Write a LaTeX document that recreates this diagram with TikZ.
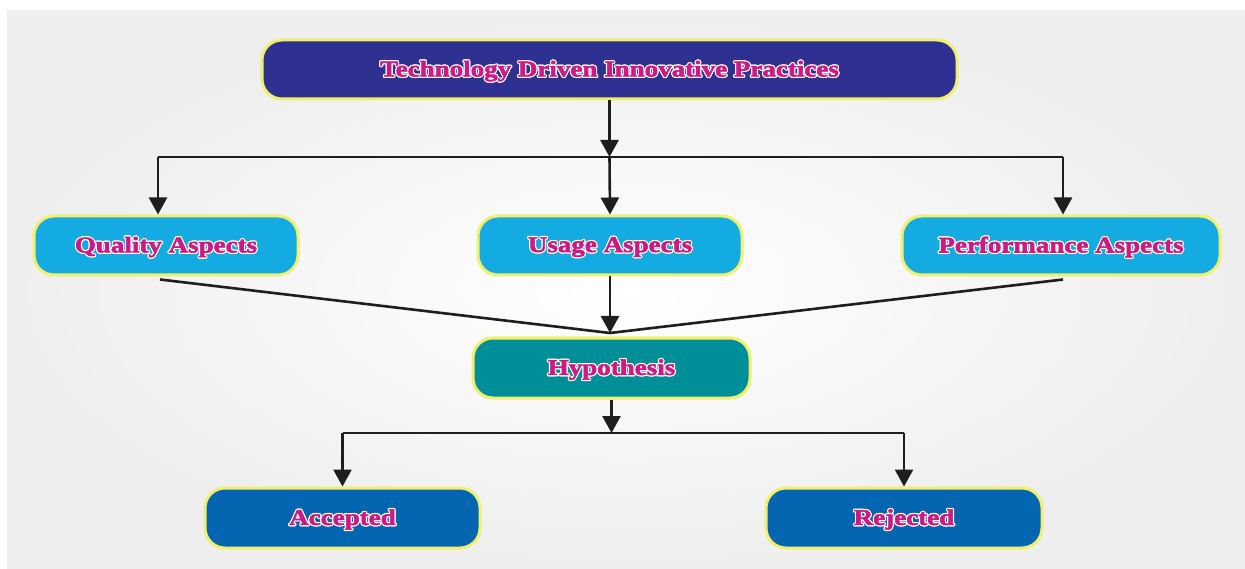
\documentclass[tikz,border=0pt]{standalone}
\usepackage{fontspec}
\setmainfont{Liberation Serif}
\newfontfamily\boxfont{Liberation Serif}[FakeStretch=1.2,FakeBold=2.5]
\usetikzlibrary{arrows.meta,calc}
\definecolor{topc}{RGB}{46,49,146}
\definecolor{aspc}{RGB}{20,170,226}
\definecolor{hypc}{RGB}{0,142,152}
\definecolor{resc}{RGB}{4,102,176}
\definecolor{yb}{RGB}{242,238,110}
\definecolor{txtc}{RGB}{205,25,135}
\definecolor{linec}{RGB}{30,30,30}
\definecolor{panel}{RGB}{238,238,238}
\newcommand\halo[3]{\rlap{\kern#1\raisebox{#2}{\textcolor{white}{#3}}}}
\newcommand\outl[1]{\leavevmode
  \halo{1.2pt}{0pt}{#1}\halo{-1.2pt}{0pt}{#1}\halo{0pt}{1.2pt}{#1}\halo{0pt}{-1.2pt}{#1}%
  \halo{.85pt}{.85pt}{#1}\halo{-.85pt}{.85pt}{#1}\halo{.85pt}{-.85pt}{#1}\halo{-.85pt}{-.85pt}{#1}%
  \textcolor{txtc}{#1}}
\begin{document}
\begin{tikzpicture}[x=1pt,y=-1pt,
  boxstyle/.style={rounded corners=20pt, draw=yb, line width=3pt, inner sep=0pt,
    minimum height=59pt, anchor=center, text depth=3pt,
    font=\boxfont\bfseries\fontsize{22.5}{26}\selectfont},
  conn/.style={draw=linec, line width=2.6pt},
  arr/.style={conn, -{Triangle[width=18pt,length=17pt]}}]
\useasboundingbox (0,0) rectangle (1245,569);
\fill[white] (0,0) rectangle (1245,569);
\shade[inner color=white, outer color=panel] (7,11) rectangle (1245,569);
% nodes
\node[boxstyle, fill=topc, minimum width=695pt] (top) at (609.5,69.5) {\outl{Technology Driven Innovative Practices}};
\node[boxstyle, fill=aspc, minimum width=264pt] (qual) at (166,245.5) {\outl{Quality Aspects}};
\node[boxstyle, fill=aspc, minimum width=264pt] (usage) at (610,245.5) {\outl{Usage Aspects}};
\node[boxstyle, fill=aspc, minimum width=318pt] (perf) at (1061,245.5) {\outl{Performance Aspects}};
\node[boxstyle, fill=hypc, minimum width=277pt, minimum height=60pt] (hyp) at (611.5,368) {\outl{Hypothesis}};
\node[boxstyle, fill=resc, minimum width=275pt, minimum height=60pt] (acc) at (342.5,518) {\outl{Accepted}};
\node[boxstyle, fill=resc, minimum width=276pt, minimum height=60pt] (rej) at (904,518) {\outl{Rejected}};
% junctions
\coordinate (j1) at (top.south |- 0,157);
\coordinate (jl) at (158,157);
\coordinate (jr) at (1063,157);
\coordinate (m) at (usage.south |- 0,333);
\coordinate (j2) at (hyp.south |- 0,433);
\coordinate (jal) at (acc.north |- 0,433);
\coordinate (jar) at (rej.north |- 0,433);
% connectors
\draw[arr] (top.south) -- (j1);
\draw[conn] (jl) -- (jr);
\draw[arr] (jl) -- (jl |- qual.north);
\draw[arr] (j1) -- (usage.north);
\draw[arr] (jr) -- (jr |- perf.north);
\draw[conn] ($(qual.south)+(-6,3)$) -- (m);
\draw[conn] ($(perf.south)+(2,3)$) -- (m);
\draw[arr] (usage.south) -- (m);
\draw[arr] (hyp.south) -- (j2);
\draw[conn] (jal) -- (jar);
\draw[arr] (jal) -- (acc.north);
\draw[arr] (jar) -- (rej.north);
\end{tikzpicture}
\end{document}
